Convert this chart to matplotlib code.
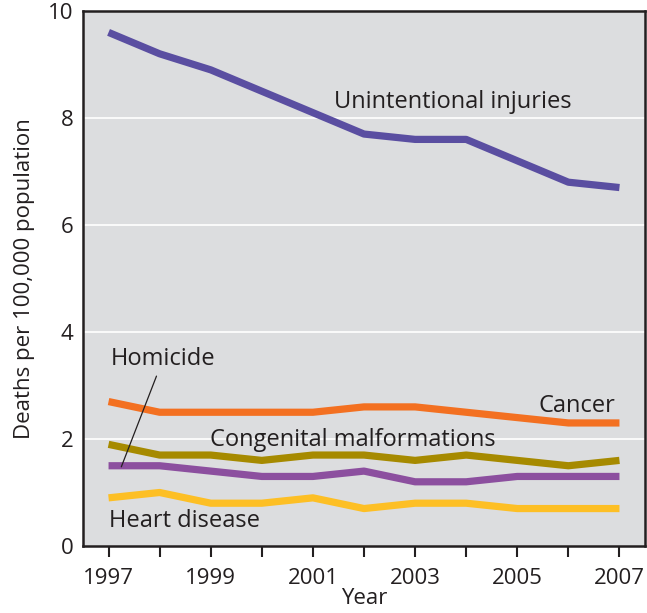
import matplotlib.pyplot as plt

plt.rcParams['font.family'] = ['Open Sans', 'DejaVu Sans']

years = list(range(1997, 2008))
unintentional = [9.6, 9.2, 8.9, 8.5, 8.1, 7.7, 7.6, 7.6, 7.2, 6.8, 6.7]
cancer = [2.7, 2.5, 2.5, 2.5, 2.5, 2.6, 2.6, 2.5, 2.4, 2.3, 2.3]
congenital = [1.9, 1.7, 1.7, 1.6, 1.7, 1.7, 1.6, 1.7, 1.6, 1.5, 1.6]
homicide = [1.5, 1.5, 1.4, 1.3, 1.3, 1.4, 1.2, 1.2, 1.3, 1.3, 1.3]
heart = [0.9, 1.0, 0.8, 0.8, 0.9, 0.7, 0.8, 0.8, 0.7, 0.7, 0.7]

series = [
    (unintentional, '#5a4ea1'),
    (cancer, '#f37021'),
    (congenital, '#a68a00'),
    (homicide, '#8c4f9f'),
    (heart, '#fdbf25'),
]

fig = plt.figure(figsize=(6.47, 6.13), dpi=100)
ax = fig.add_axes([83 / 647, 67 / 613, 562 / 647, 535 / 613])
ax.set_facecolor('#dcdddf')

for y in [2, 4, 6, 8]:
    ax.axhline(y, color='white', linewidth=1.2, zorder=1)

for values, color in series:
    ax.plot(years, values, color=color, linewidth=5.2, solid_capstyle='butt', zorder=3)

ax.set_xlim(1996.5, 2007.5)
ax.set_ylim(0, 10)
ax.set_xticks(years)
ax.set_xticklabels([str(y) if y % 2 == 1 else '' for y in years])
ax.set_yticks([0, 2, 4, 6, 8, 10])
ax.tick_params(axis='x', direction='out', length=8, width=1.5, color='#231f20',
               labelsize=16, labelcolor='#231f20', pad=8)
ax.tick_params(axis='y', length=0, labelsize=16, labelcolor='#231f20', pad=7)
for spine in ax.spines.values():
    spine.set_linewidth(1.8)
    spine.set_color('#231f20')

ax.set_xlabel('Year', fontsize=16, color='#231f20', labelpad=-1)
ax.set_ylabel('Deaths per 100,000 population', fontsize=16, color='#231f20', labelpad=9)

txt = dict(fontsize=17, color='#231f20', zorder=4)
ax.text(2001.42, 8.3, 'Unintentional injuries', ha='left', va='center', **txt)
ax.text(2006.92, 2.62, 'Cancer', ha='right', va='center', **txt)
ax.text(1998.99, 1.98, 'Congenital malformations', ha='left', va='center', **txt)
ax.text(1997.0, 0.47, 'Heart disease', ha='left', va='center', **txt)
ax.annotate('Homicide', xy=(1997.25, 1.48), xytext=(1998.07, 3.5),
            ha='center', va='center', fontsize=17, color='#231f20', zorder=4,
            arrowprops=dict(arrowstyle='-', color='#231f20', lw=0.9,
                            shrinkA=2, shrinkB=0))

plt.savefig('out.png', dpi=100)
plt.close(fig)
